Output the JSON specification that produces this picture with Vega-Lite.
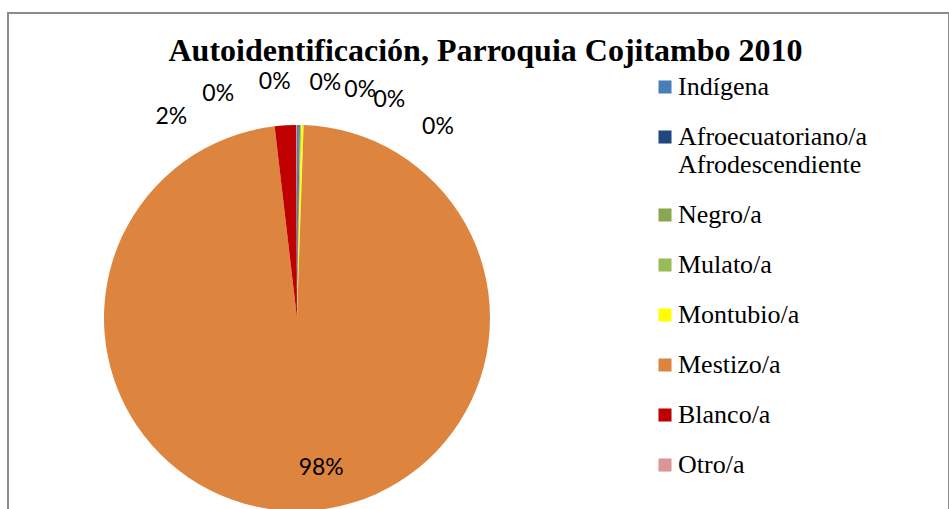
{
  "$schema": "https://vega.github.io/schema/vega-lite/v6.json",
  "width": 941,
  "height": 500,
  "autosize": {"type": "none"},
  "padding": {"left": 8, "top": 13, "right": 0, "bottom": 0},
  "background": "white",
  "view": {"stroke": "#8c8c8c", "strokeWidth": 2},
  "title": {
    "text": "Autoidentificación, Parroquia Cojitambo 2010",
    "font": "Liberation Serif",
    "fontSize": 32,
    "fontWeight": "bold",
    "color": "black",
    "anchor": "middle",
    "orient": "top",
    "offset": -55,
    "dx": 7
  },
  "data": {
    "values": [
      {"categoria": "Indígena", "orden": 1, "porcentaje": 0.0015},
      {"categoria": "Afroecuatoriano/a Afrodescendiente", "orden": 2, "porcentaje": 0.0008},
      {"categoria": "Negro/a", "orden": 3, "porcentaje": 0.0005},
      {"categoria": "Mulato/a", "orden": 4, "porcentaje": 0.0007},
      {"categoria": "Montubio/a", "orden": 5, "porcentaje": 0.002},
      {"categoria": "Mestizo/a", "orden": 6, "porcentaje": 0.976},
      {"categoria": "Blanco/a", "orden": 7, "porcentaje": 0.018},
      {"categoria": "Otro/a", "orden": 8, "porcentaje": 0.0005}
    ]
  },
  "resolve": {"scale": {"theta": "independent"}},
  "layer": [
    {
      "mark": {"type": "arc", "x": 289, "y": 305, "outerRadius": 193},
      "encoding": {
        "theta": {"field": "porcentaje", "type": "quantitative", "stack": true},
        "order": {"field": "orden", "type": "quantitative"},
        "color": {
          "field": "categoria",
          "type": "nominal",
          "sort": ["Indígena", "Afroecuatoriano/a Afrodescendiente", "Negro/a", "Mulato/a", "Montubio/a", "Mestizo/a", "Blanco/a", "Otro/a"],
          "scale": {
            "domain": ["Indígena", "Afroecuatoriano/a Afrodescendiente", "Negro/a", "Mulato/a", "Montubio/a", "Mestizo/a", "Blanco/a", "Otro/a"],
            "range": ["#4a7ebb", "#1f497d", "#8aa64f", "#9bbb59", "#ffff00", "#dd853f", "#c00000", "#d99694"]
          },
          "legend": {
            "title": null,
            "orient": "none",
            "legendX": 644,
            "legendY": 61,
            "symbolType": "square",
            "symbolSize": 170,
            "symbolStrokeWidth": 0,
            "labelFont": "Liberation Serif",
            "labelFontSize": 26,
            "labelColor": "black",
            "labelOffset": 0,
            "labelLimit": 300,
            "rowPadding": 24,
            "labelExpr": "datum.label == 'Afroecuatoriano/a Afrodescendiente' ? ['Afroecuatoriano/a', 'Afrodescendiente'] : datum.label"
          }
        }
      }
    },
    {
      "transform": [{"filter": "datum.porcentaje < 0.5"}],
      "mark": {"type": "text", "x": 289, "y": 305, "radius": 237, "font": "Lato", "fontSize": 23, "color": "black"},
      "encoding": {
        "theta": {
          "field": "orden",
          "type": "quantitative",
          "scale": {"domain": [1, 2, 3, 4, 5, 7, 8], "range": [-0.094, 0.12, 0.27, 0.4, 0.637, -0.559, -0.339]}
        },
        "text": {"field": "porcentaje", "type": "quantitative", "format": ".0%"}
      }
    },
    {
      "mark": {"type": "text", "x": 289, "y": 305, "radius": 152, "font": "Lato", "fontSize": 23, "color": "black"},
      "encoding": {
        "theta": {"field": "porcentaje", "type": "quantitative", "stack": true, "scale": {"domain": [0, 1.04]}},
        "order": {"field": "orden", "type": "quantitative"},
        "text": {
          "condition": {"test": "datum.porcentaje > 0.5", "field": "porcentaje", "type": "quantitative", "format": ".0%"},
          "value": ""
        }
      }
    }
  ]
}
